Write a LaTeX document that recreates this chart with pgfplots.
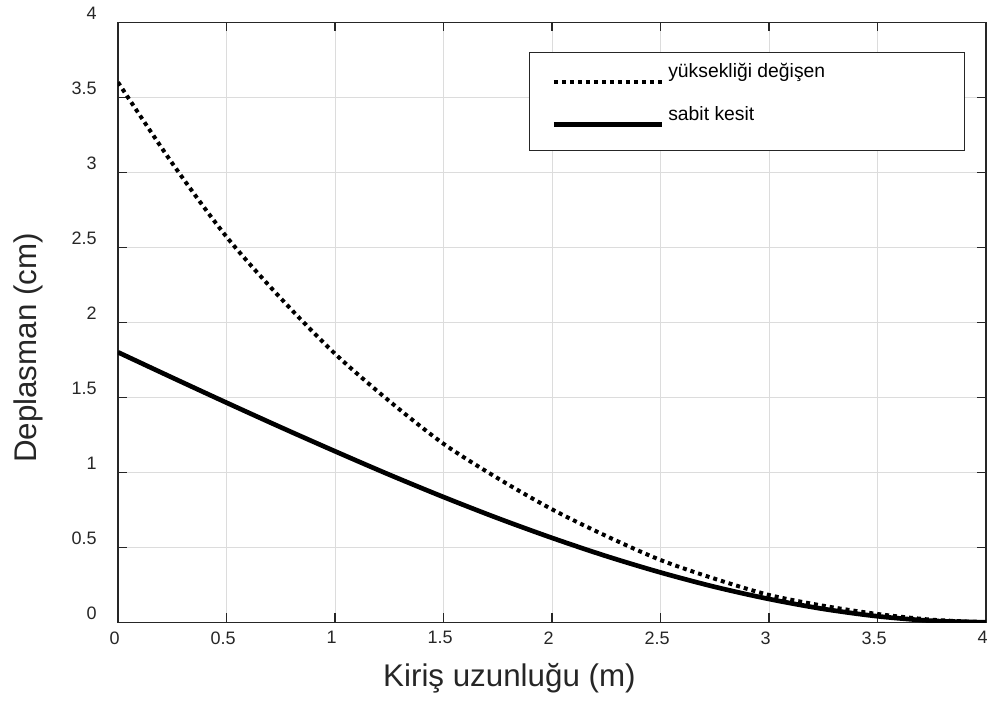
\documentclass[border=0pt]{standalone}
\usepackage{fontspec}
\setmainfont{Liberation Sans}
\usepackage{pgfplots}
\pgfplotsset{compat=1.18}
\definecolor{axgray}{HTML}{262626}
\definecolor{gridgray}{HTML}{DCDCDC}

\begin{document}
\begin{tikzpicture}
\path[use as bounding box] (-88.5pt,-59.8pt) rectangle (653.25pt,466.7pt);
\begin{axis}[
    scale only axis,
    width=651pt, height=450pt,
    xmin=0, xmax=4, ymin=0, ymax=4,
    xtick={0,0.5,...,4}, ytick={0,0.5,...,4},
    /pgf/number format/assume math mode=true,
    grid=major,
    grid style={gridgray, line width=0.75pt},
    tick align=inside,
    major tick length=6.75pt,
    axis line style={axgray, line width=1pt},
    every tick/.style={axgray, line width=1pt},
    tick label style={font=\fontsize{13.5}{16}\selectfont, text=axgray},
    yticklabel style={inner sep=0pt, anchor=east, xshift=-15.75pt, yshift=6.75pt},
    xticklabel style={inner sep=0pt, anchor=north, yshift=-6.75pt, xshift=-2.5pt},
    label style={font=\fontsize{23.5}{28}\selectfont, text=axgray},
    xlabel={Kiriş uzunluğu (m)},
    ylabel={Deplasman (cm)},
    xlabel style={at={(axis description cs:0.451,0)}, anchor=base, yshift=-48pt},
    ylabel style={at={(axis description cs:-0.0937,0.457)}, anchor=base},
    legend style={name=leg, at={(0.9758,0.9493)}, anchor=north east,
        draw=none, fill=white,
        inner xsep=16.3pt, inner ysep=6.27pt,
        row sep=15.4pt, column sep=3pt,
        nodes={inner sep=0pt}, cells={anchor=base west},
        font=\fontsize{14.5}{17.4}\selectfont},
    legend image code/.code={\draw[#1, line cap=butt] (0pt,-3pt) -- (81pt,-3pt);},
]
\addplot[black, line width=3pt, line cap=butt, dash pattern=on 3pt off 3pt, smooth]
    coordinates {(0,3.60)(0.25,3.06)(0.5,2.57)(0.75,2.16)(1,1.79)(1.25,1.475)
    (1.5,1.19)(1.75,0.96)(2,0.753)(2.25,0.575)(2.5,0.415)(2.75,0.29)
    (3,0.182)(3.25,0.11)(3.5,0.055)(3.75,0.017)(4,0)};
\addlegendentry{\makebox[206pt][l]{\strut yüksekliği değişen}}
\addplot[black, line width=3.5pt, smooth]
    coordinates {(0,1.80)(0.25,1.631)(0.5,1.464)(0.75,1.300)(1,1.14)(1.25,0.984)
    (1.5,0.835)(1.75,0.694)(2,0.5625)(2.25,0.441)(2.5,0.332)(2.75,0.236)
    (3,0.155)(3.25,0.089)(3.5,0.040)(3.75,0.010)(4,0)};
\addlegendentry{\makebox[206pt][l]{\strut sabit kesit}}
\end{axis}
% legend frame, with the deeper bottom margin of the original
\fill[white] (leg.south west) rectangle ([yshift=-11.5pt]leg.south east);
\draw[axgray, line width=0.75pt] (leg.north west) rectangle ([yshift=-11.5pt]leg.south east);
\end{tikzpicture}
\end{document}
